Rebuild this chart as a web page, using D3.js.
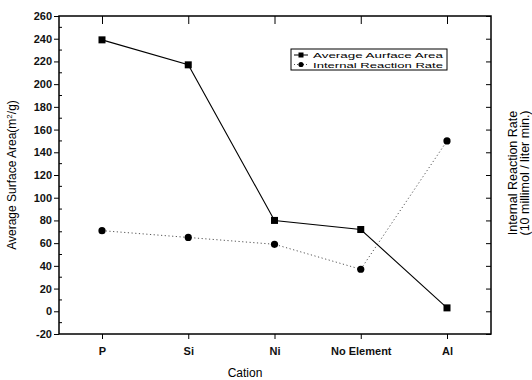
<!DOCTYPE html>
<html>
<head>
<meta charset="utf-8">
<script src="https://cdn.jsdelivr.net/npm/d3@7"></script>
<style>
body{margin:0;background:#fff;}
svg{font-family:"Liberation Sans",Arial,sans-serif;}
</style>
</head>
<body>
<div id="chart"></div>
<script>
// data
const cations = ["P", "Si", "Ni", "No Element", "Al"];
const surfaceArea = [239, 217, 80, 72, 3];
const reactionRate = [71, 65, 59, 37, 150];
const yTicks = [-20, 0, 20, 40, 60, 80, 100, 120, 140, 160, 180, 200, 220, 240, 260];

const W = 532, H = 380;
const m = {left: 59, right: 41, top: 16, bottom: 46};
const svg = d3.select("#chart").append("svg").attr("width", W).attr("height", H);

const x = d3.scalePoint().domain(cations).range([102, 447]);
const y = d3.scaleLinear().domain([-20, 260]).range([H - m.bottom, m.top]);
const x0 = m.left, x1 = W - m.right, y0 = H - m.bottom, y1 = m.top;

// left axis with major labels
const leftAx = svg.append("g").attr("transform", `translate(${x0},0)`)
  .call(d3.axisLeft(y).tickValues(yTicks).tickSize(5).tickPadding(2).tickFormat(d => String(d)));
leftAx.selectAll("text").style("font-size", "11px").style("font-weight", "bold").attr("fill", "#111");
leftAx.select(".domain").remove();
// minor ticks inward
svg.append("g").selectAll("line").data(d3.range(-10, 260, 20)).join("line")
  .attr("x1", x0).attr("x2", x0 + 3).attr("y1", d => y(d)).attr("y2", d => y(d))
  .attr("stroke", "#000");

// right axis ticks only, inward
const rightAx = svg.append("g").attr("transform", `translate(${x1},0)`)
  .call(d3.axisRight(y).tickValues(yTicks).tickSize(-5).tickFormat(""));
rightAx.select(".domain").remove();

// bottom axis
const bottomAx = svg.append("g").attr("transform", `translate(0,${y0})`)
  .call(d3.axisBottom(x).tickSize(5).tickPadding(8));
bottomAx.select(".domain").remove();
bottomAx.selectAll("text").style("font-size", "11px").style("font-weight", "bold").attr("fill", "#111");

// top ticks inward
const topAx = svg.append("g").attr("transform", `translate(0,${y1})`)
  .call(d3.axisTop(x).tickSize(-8).tickFormat(""));
topAx.select(".domain").remove();

// frame
svg.append("rect").attr("x", x0).attr("y", y1).attr("width", x1 - x0).attr("height", y0 - y1)
  .attr("fill", "none").attr("stroke", "#000").attr("stroke-width", 1.5);

// series
const line = d3.line().x((d, i) => x(cations[i])).y(d => y(d));
svg.append("path").datum(reactionRate).attr("d", line)
  .attr("fill", "none").attr("stroke", "#555").attr("stroke-width", 1).attr("stroke-dasharray", "1.2,2.5");
svg.append("path").datum(surfaceArea).attr("d", line)
  .attr("fill", "none").attr("stroke", "#000").attr("stroke-width", 1.1);
svg.append("g").selectAll("rect").data(surfaceArea).join("rect")
  .attr("x", (d, i) => x(cations[i]) - 3.5).attr("y", d => y(d) - 3.5)
  .attr("width", 7).attr("height", 7).attr("fill", "#000");
svg.append("g").selectAll("circle").data(reactionRate).join("circle")
  .attr("cx", (d, i) => x(cations[i])).attr("cy", d => y(d)).attr("r", 3.6).attr("fill", "#000");

// legend
const lg = svg.append("g").attr("transform", "translate(291,49)");
lg.append("rect").attr("width", 156).attr("height", 21).attr("fill", "#fff").attr("stroke", "#000").attr("stroke-width", 1);
lg.append("line").attr("x1", 3).attr("x2", 17).attr("y1", 6).attr("y2", 6).attr("stroke", "#000");
lg.append("rect").attr("x", 7.5).attr("y", 3.5).attr("width", 5).attr("height", 5).attr("fill", "#000");
lg.append("line").attr("x1", 3).attr("x2", 17).attr("y1", 15.5).attr("y2", 15.5)
  .attr("stroke", "#555").attr("stroke-dasharray", "1,2");
lg.append("circle").attr("cx", 10).attr("cy", 15.5).attr("r", 2.6).attr("fill", "#000");
lg.append("text").attr("x", 22).attr("y", 9).text("Average Aurface Area").style("font-size", "8px")
  .attr("textLength", 130).attr("lengthAdjust", "spacingAndGlyphs");
lg.append("text").attr("x", 22).attr("y", 18.7).text("Internal Reaction Rate").style("font-size", "8px")
  .attr("textLength", 130).attr("lengthAdjust", "spacingAndGlyphs");

// axis titles
svg.append("text").attr("transform", "translate(16,175) rotate(-90)").attr("text-anchor", "middle")
  .style("font-size", "12px").html("Average Surface Area(m<tspan dy='-4' font-size='8px'>2</tspan><tspan dy='4'>/g)</tspan>");
svg.append("text").attr("x", 245).attr("y", 377).attr("text-anchor", "middle")
  .style("font-size", "12px").text("Cation");
svg.append("text").attr("transform", "translate(517,173) rotate(-90)").attr("text-anchor", "middle")
  .style("font-size", "12.5px").text("Internal Reaction Rate");
svg.append("text").attr("transform", "translate(529,173) rotate(-90)").attr("text-anchor", "middle")
  .style("font-size", "12.5px").text("(10 millimol / liter min.)");
</script>
</body>
</html>
